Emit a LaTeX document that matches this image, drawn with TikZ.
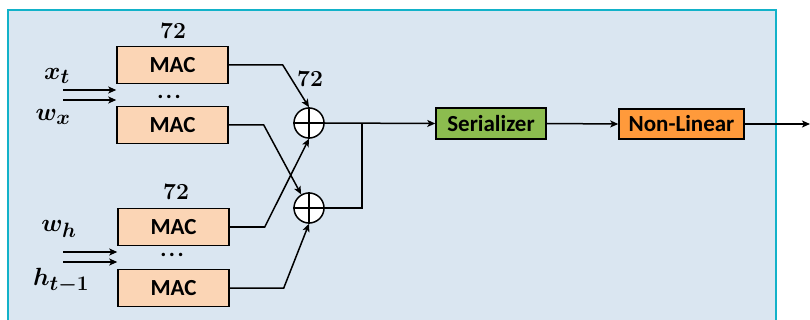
\documentclass[tikz,border=0pt]{standalone}
\usepackage{amsmath,amssymb}
\usepackage{bm}
\usepackage{fontspec}
\setsansfont{Carlito}
\usepackage{tikz}
\usetikzlibrary{arrows.meta}
\definecolor{panelfill}{HTML}{DAE6F1}
\definecolor{panelline}{HTML}{12B2C9}
\definecolor{macfill}{HTML}{FBD5B5}
\definecolor{serfill}{HTML}{8CBC4F}
\definecolor{nlfill}{HTML}{FF9A3B}

\begin{document}
\begin{tikzpicture}[x=1pt, y=-1pt,
>={Stealth[length=8pt,width=7pt,inset=2pt]},
block/.style = {rectangle, draw=black, line width=1.5pt, inner sep=0pt,
  font=\sffamily\bfseries\fontsize{23}{26}\selectfont},
mac/.style = {block, fill=macfill, minimum width=111pt, minimum height=37pt},
ser/.style = {block, fill=serfill, minimum width=110pt, minimum height=31pt},
nonlin/.style = {block, fill=nlfill, minimum width=125pt, minimum height=30pt},
adder/.style = {circle, draw=black, fill=white, line width=1.5pt, minimum size=30pt, inner sep=0pt},
wire/.style = {line width=1.5pt},
edge/.style = {wire, ->},
num/.style = {font=\bfseries\fontsize{23}{26}\selectfont, inner sep=0pt},
var/.style = {font=\fontsize{30}{34}\selectfont, inner sep=0pt},
dots/.style = {font=\sffamily\bfseries\fontsize{23}{26}\selectfont, inner sep=0pt}]
\useasboundingbox (0,0) rectangle (810,320);
\draw[panelline, fill=panelfill, line width=2pt] (8,10) rectangle (776,340);

% multiply-accumulate units
\node[mac] (mac1) at (172.5,65) {MAC};
\node[mac] (mac2) at (172.5,125) {MAC};
\node[mac] (mac3) at (173.5,227) {MAC};
\node[mac] (mac4) at (173.5,288) {MAC};
\node[num] (n1) at (173,31) {72};
\node[num] (n2) at (176,192) {72};
\node[num] (n3) at (310,79) {72};
\node[dots] (d1) at (169,97) {.\hspace{2.5pt}.\hspace{2.5pt}.};
\node[dots] (d2) at (172,255) {.\hspace{2.5pt}.\hspace{2.5pt}.};

% inputs
\node[var] (xt) at (57,76) {$\boldsymbol{x_t}$};
\node[var] (wx) at (53,117) {$\boldsymbol{w_x}$};
\node[var] (wh) at (59,229) {$\boldsymbol{w_h}$};
\node[var] (ht) at (61,281) {$\boldsymbol{h_{t-1}}$};
\coordinate (i1) at (63,90);
\coordinate (i2) at (63,100);
\coordinate (i3) at (63,252);
\coordinate (i4) at (63,262);
\draw[edge] (i1) -- (i1 -| mac1.west);
\draw[edge] (i2) -- (i2 -| mac1.west);
\draw[edge] (i3) -- (i3 -| mac3.west);
\draw[edge] (i4) -- (i4 -| mac3.west);

% adders
\node[adder] (add1) at (309,123) {};
\node[adder] (add2) at (309,208) {};
\foreach \a in {add1,add2} {
  \draw[line width=1.2pt] (\a.north) -- (\a.south);
  \draw[line width=1.2pt] (\a.west) -- (\a.east);
}

\draw[edge] (mac1.east) -- ++(54,0) -- (add1.north);
\draw[edge] (mac2.east) -- ++(35,0) -- (add2.120);
\draw[edge] (mac3.east) -- ++(35,0) -- (add1.south);
\draw[edge] (mac4.east) -- ++(54,0) -- (add2.south);

% output chain
\node[ser] (ser) at (491,123.5) {Serializer};
\node[nonlin] (nl) at (681.5,124) {Non-Linear};
\coordinate (join) at (362,123);
\coordinate (out) at (810,124);
\draw[edge] (add1.east) -- (ser.west);
\draw[wire] (add2.east) -- (join |- add2.east) -- (join);
\draw[edge] (ser.east) -- (nl.west);
\draw[edge] (nl.east) -- (out);
\end{tikzpicture}
\end{document}
